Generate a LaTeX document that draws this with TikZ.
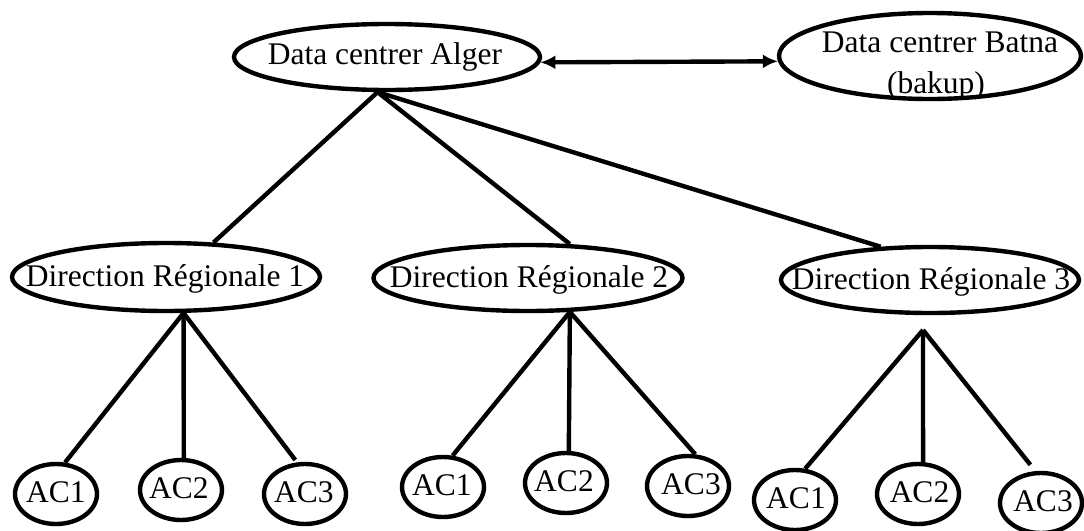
\documentclass[tikz,border=0pt]{standalone}
\usepackage{fontspec}
\setmainfont{Liberation Serif}
\usetikzlibrary{shapes.geometric,arrows.meta}
\begin{document}
\begin{tikzpicture}[x=0.5pt, y=-0.5pt,
  unit/.style={draw, ellipse, line width=2.2pt, inner sep=0pt},
  ac/.style={unit, minimum width=41pt, minimum height=30pt},
  lbl/.style={inner sep=0pt, anchor=base, font=\fontsize{15.75}{20}\selectfont},
  link/.style={line width=2.2pt},
  twoway/.style={link, {Latex[length=7.5pt,width=7pt]}-{Latex[length=7.5pt,width=7pt]}}]

\useasboundingbox (0,0) rectangle (1084,531);

% data centres
\node[unit, minimum width=153pt, minimum height=33pt] (alger) at (387,57) {};
\node[unit, minimum width=151pt, minimum height=43pt] (batna) at (930,56) {};
\node[lbl] (alger-t) at (385,64.5) {Data centrer Alger};
\node[lbl] (batna-t1) at (940,52) {Data centrer Batna};
\node[lbl] (batna-t2) at (936,93) {(bakup)};

% regional directions
\node[unit, minimum width=154pt, minimum height=34pt] (dr1) at (166,277) {};
\node[unit, minimum width=154.5pt, minimum height=33pt] (dr2) at (528,278) {};
\node[unit, minimum width=149pt, minimum height=33pt] (dr3) at (930,280) {};
\node[lbl] (dr1-t) at (165,286.5) {Direction Régionale 1};
\node[lbl] (dr2-t) at (529,287.5) {Direction Régionale 2};
\node[lbl] (dr3-t) at (931,289.5) {Direction Régionale 3};

% agencies
\node[ac] (ac11) at (56,494) {};
\node[ac] (ac12) at (181,490) {};
\node[ac] (ac13) at (305,494) {};
\node[ac] (ac21) at (443,487) {};
\node[ac] (ac22) at (566,483) {};
\node[ac] (ac23) at (688,486) {};
\node[ac] (ac31) at (795,500) {};
\node[ac] (ac32) at (918,494) {};
\node[ac] (ac33) at (1041,503) {};

\node[lbl] (ac11-t) at (56,502) {AC1};
\node[lbl] (ac12-t) at (179,498) {AC2};
\node[lbl] (ac13-t) at (304,502) {AC3};
\node[lbl] (ac21-t) at (442,495) {AC1};
\node[lbl] (ac22-t) at (564,491) {AC2};
\node[lbl] (ac23-t) at (691,494) {AC3};
\node[lbl] (ac31-t) at (796,508) {AC1};
\node[lbl] (ac32-t) at (919.5,502) {AC2};
\node[lbl] (ac33-t) at (1043,511) {AC3};

\coordinate (hub3) at (923,330);

% replication link
\draw[twoway] (alger.-2) -- (batna.182);

% head office to regional directions
\draw[link] (alger.255) -- (dr1.36);
\draw[link] (alger.255) -- (dr2.39);
\draw[link] (alger.255) -- (dr3.146);

% regional directions to agencies
\draw[link] (dr1.296) -- (ac11.74);
\draw[link] (dr1.296) -- (ac12.85);
\draw[link, shorten >=1.5pt] (dr1.296) -- (ac13.104);
\draw[link] (dr2.321) -- (ac21.73);
\draw[link] (dr2.321) -- (ac22.85);
\draw[link] (dr2.321) -- (ac23.77);
\draw[link] (hub3) -- (ac31.72);
\draw[link] (hub3) -- (ac32.81);
\draw[link, shorten >=4pt] (hub3) -- (ac33.100);
\end{tikzpicture}
\end{document}
